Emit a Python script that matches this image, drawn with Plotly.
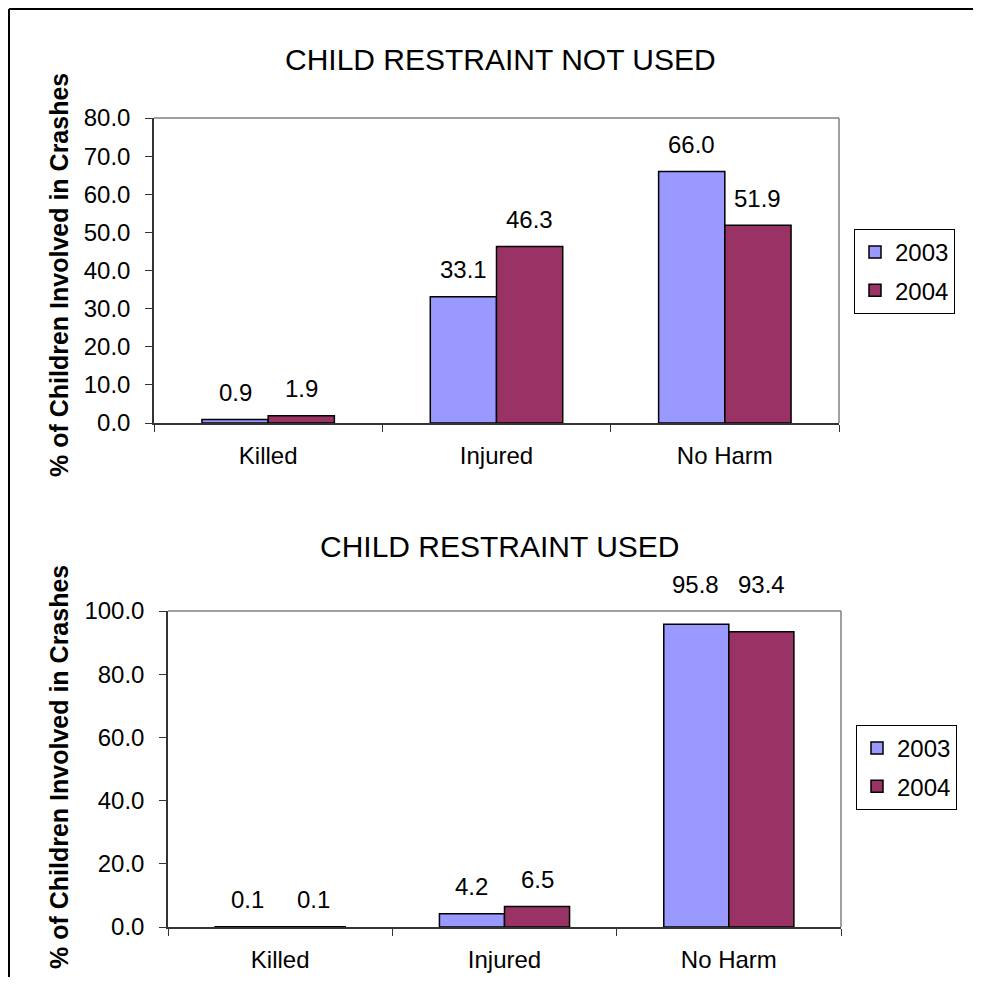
import plotly.graph_objects as go

categories = ["Killed", "Injured", "No Harm"]
years = ["2003", "2004"]
not_used_2003 = [0.9, 33.1, 66.0]
not_used_2004 = [1.9, 46.3, 51.9]
used_2003 = [0.1, 4.2, 95.8]
used_2004 = [0.1, 6.5, 93.4]
title_top = "CHILD RESTRAINT NOT USED"
title_bottom = "CHILD RESTRAINT USED"
y_title = "% of Children Involved in Crashes"
top_ticks = [0, 10, 20, 30, 40, 50, 60, 70, 80]
bottom_ticks = [0, 20, 40, 60, 80, 100]

# page has an 8px body margin; figure sized to fit the window exactly
OFF = 8
FW, FH = 981 - 2 * OFF, 985 - 2 * OFF
FONT = "Arial, Liberation Sans, sans-serif"
C2003 = "#9999FF"
C2004 = "#993366"


def px(x):
    return (x - OFF) / FW


def py(y):
    return 1 - (y - OFF) / FH


fig = go.Figure()

panels = [
    dict(vals=(not_used_2003, not_used_2004), xa="x", ya="y", legend="legend", ymax=80),
    dict(vals=(used_2003, used_2004), xa="x2", ya="y2", legend="legend2", ymax=100),
]

for p in panels:
    for yr, vals, col in zip(years, p["vals"], (C2003, C2004)):
        fig.add_trace(go.Bar(
            x=categories, y=vals, name=yr, xaxis=p["xa"], yaxis=p["ya"],
            marker=dict(color=col, line=dict(color="black", width=1.5)),
            legend=p["legend"], legendgroup=yr + p["legend"],
            hoverinfo="skip",
        ))

annots = []
for p in panels:
    for i, vals in enumerate(p["vals"]):
        shift = -33 if i == 0 else 33
        for c, v in zip(categories, vals):
            # labels of bars reaching the top of the plot area sit above its frame
            yv = v if v < 0.9 * p["ymax"] else p["ymax"]
            annots.append(dict(
                x=c, y=yv, xref=p["xa"], yref=p["ya"], text=f"{v:.1f}",
                showarrow=False, xshift=shift, yshift=27, yanchor="middle",
                font=dict(family=FONT, size=24, color="black"),
            ))

annots.append(dict(x=px(500), y=py(60), xref="paper", yref="paper", text=title_top,
                   showarrow=False, font=dict(family=FONT, size=30, color="black"),
                   xanchor="center", yanchor="middle"))
annots.append(dict(x=px(500), y=py(546), xref="paper", yref="paper", text=title_bottom,
                   showarrow=False, font=dict(family=FONT, size=30, color="black"),
                   xanchor="center", yanchor="middle"))
for yc in (275, 767):
    annots.append(dict(x=px(59), y=py(yc), xref="paper", yref="paper",
                       text="<b>" + y_title + "</b>", textangle=-90, showarrow=False,
                       font=dict(family=FONT, size=25, color="black"),
                       xanchor="center", yanchor="middle"))

axis_common = dict(
    showgrid=False, zeroline=False, showline=True, linecolor="#333333", linewidth=1.5,
    ticks="outside", ticklen=7, tickcolor="#333333", tickwidth=1.2, automargin=False,
    tickfont=dict(family=FONT, size=24, color="black"),
)

legend_common = dict(xanchor="left", yanchor="top", bordercolor="black", borderwidth=1,
                     bgcolor="white", font=dict(family=FONT, size=24, color="black"),
                     tracegroupgap=4, traceorder="grouped", itemwidth=30)

fig.update_layout(
    width=FW, height=FH,
    margin=dict(l=0, r=0, t=0, b=0, autoexpand=False),
    paper_bgcolor="white", plot_bgcolor="white",
    barmode="group", bargap=0.42, bargroupgap=0,
    showlegend=True,
    xaxis=dict(domain=[px(154), px(839)], anchor="y", tickson="boundaries",
               ticklabelstandoff=10, **axis_common),
    yaxis=dict(domain=[py(423), py(118)], anchor="x", range=[0, 80],
               tickvals=top_ticks, ticktext=[f"{t:.1f}" for t in top_ticks],
               ticklabelstandoff=10, **axis_common),
    xaxis2=dict(domain=[px(168), px(841)], anchor="y2", tickson="boundaries",
                ticklabelstandoff=10, **axis_common),
    yaxis2=dict(domain=[py(927), py(611)], anchor="x2", range=[0, 100],
                tickvals=bottom_ticks, ticktext=[f"{t:.1f}" for t in bottom_ticks],
                ticklabelstandoff=10, **axis_common),
    legend=dict(x=px(854), y=py(229), **legend_common),
    legend2=dict(x=px(856), y=py(725), **legend_common),
    annotations=annots,
    shapes=[
        dict(type="line", xref="paper", yref="paper", x0=px(9), x1=px(9), y0=0, y1=py(9),
             line=dict(color="black", width=2)),
        dict(type="line", xref="paper", yref="paper", x0=px(9), x1=1, y0=py(9), y1=py(9),
             line=dict(color="black", width=2)),
        dict(type="line", xref="x domain", yref="y domain", x0=0, x1=1, y0=1, y1=1,
             line=dict(color="#808080", width=1.5)),
        dict(type="line", xref="x domain", yref="y domain", x0=1, x1=1, y0=0, y1=1,
             line=dict(color="#808080", width=1.5)),
        dict(type="line", xref="x2 domain", yref="y2 domain", x0=0, x1=1, y0=1, y1=1,
             line=dict(color="#808080", width=1.5)),
        dict(type="line", xref="x2 domain", yref="y2 domain", x0=1, x1=1, y0=0, y1=1,
             line=dict(color="#808080", width=1.5)),
    ],
)

fig.write_html("out.html")
